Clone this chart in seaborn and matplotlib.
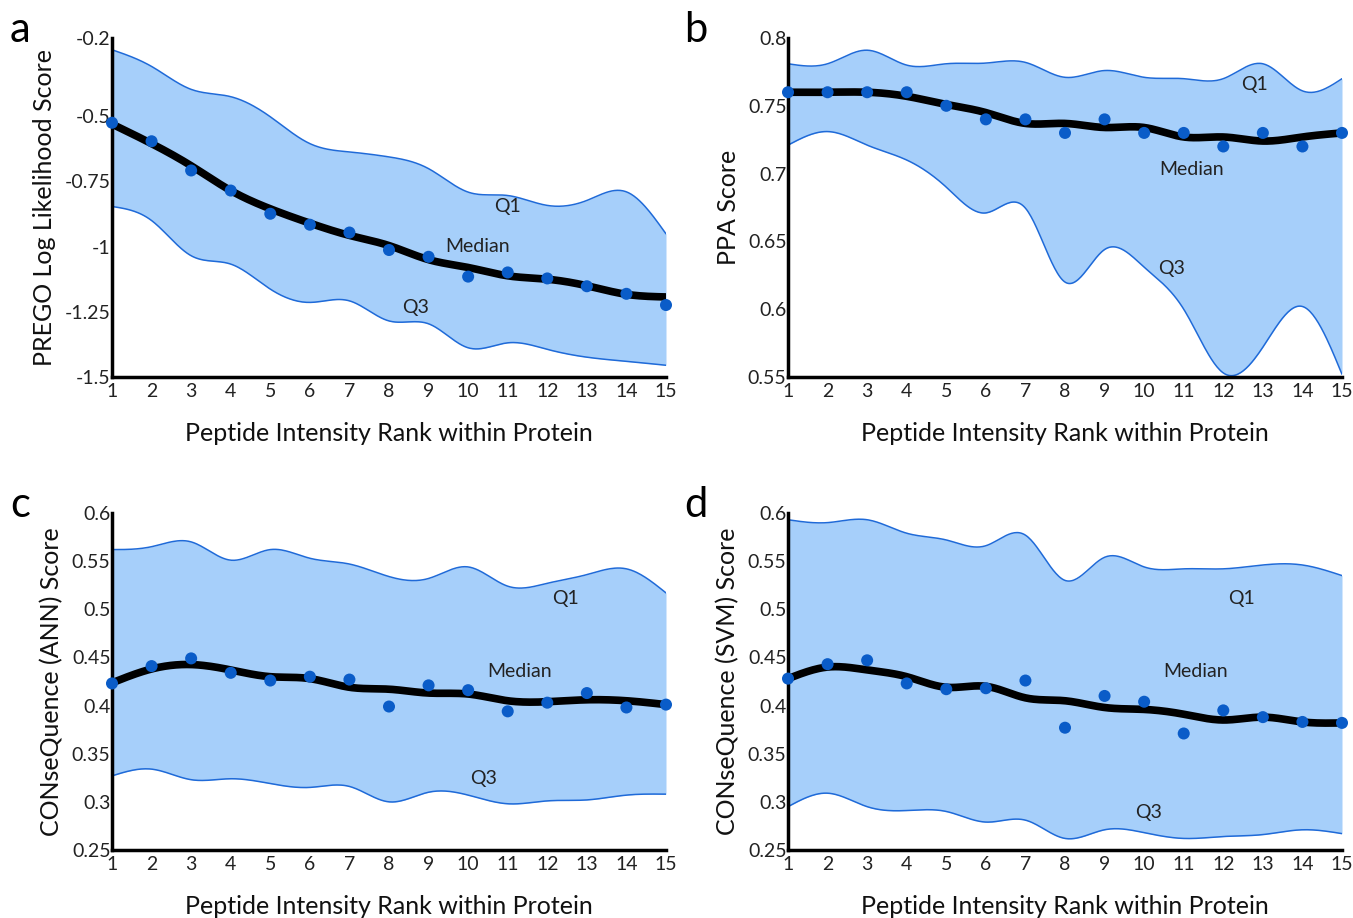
import numpy as np
import pandas as pd
import matplotlib
matplotlib.use("Agg")
import matplotlib.pyplot as plt
import seaborn as sns

sns.set_theme(style="white")
plt.rcParams['font.family'] = ['Lato', 'DejaVu Sans']

ranks = list(range(1, 16))

# Panel a: PREGO
a_points = [-0.525, -0.596, -0.708, -0.785, -0.874, -0.916, -0.946, -1.013, -1.039, -1.115, -1.099, -1.122, -1.152, -1.181, -1.224]
a_median = [-0.53, -0.605, -0.69, -0.785, -0.855, -0.91, -0.957, -0.996, -1.05, -1.08, -1.112, -1.125, -1.15, -1.183, -1.193]
a_q1 = [-0.245, -0.309, -0.397, -0.425, -0.502, -0.605, -0.637, -0.656, -0.701, -0.791, -0.804, -0.842, -0.823, -0.79, -0.951]
a_q3 = [-0.846, -0.9, -1.035, -1.067, -1.163, -1.214, -1.208, -1.285, -1.296, -1.388, -1.369, -1.394, -1.424, -1.44, -1.455]

# Panel b: PPA
b_points = [0.76, 0.76, 0.76, 0.76, 0.75, 0.74, 0.74, 0.73, 0.74, 0.73, 0.73, 0.72, 0.73, 0.72, 0.73]
b_median = [0.76, 0.76, 0.76, 0.757, 0.751, 0.745, 0.737, 0.737, 0.734, 0.734, 0.727, 0.727, 0.724, 0.727, 0.73]
b_q1 = [0.781, 0.781, 0.791, 0.780, 0.781, 0.7815, 0.782, 0.771, 0.776, 0.771, 0.770, 0.770, 0.781, 0.761, 0.770]
b_q3 = [0.721, 0.731, 0.721, 0.710, 0.690, 0.671, 0.6745, 0.620, 0.644, 0.631, 0.600, 0.553, 0.572, 0.602, 0.552]

# Panel c: CONSeQuence ANN
c_points = [0.423, 0.441, 0.449, 0.434, 0.426, 0.430, 0.427, 0.399, 0.421, 0.416, 0.394, 0.403, 0.413, 0.398, 0.401]
c_median = [0.4236, 0.438, 0.4426, 0.437, 0.430, 0.428, 0.419, 0.417, 0.413, 0.412, 0.405, 0.404, 0.406, 0.405, 0.401]
c_q1 = [0.562, 0.565, 0.570, 0.551, 0.562, 0.553, 0.547, 0.534, 0.532, 0.544, 0.524, 0.527, 0.536, 0.542, 0.517]
c_q3 = [0.327, 0.334, 0.323, 0.324, 0.319, 0.315, 0.316, 0.300, 0.310, 0.307, 0.298, 0.301, 0.302, 0.307, 0.308]

# Panel d: CONSeQuence SVM
d_points = [0.428, 0.443, 0.447, 0.423, 0.417, 0.418, 0.426, 0.377, 0.410, 0.404, 0.371, 0.395, 0.388, 0.383, 0.382]
d_median = [0.428, 0.440, 0.437, 0.430, 0.419, 0.420, 0.408, 0.405, 0.398, 0.396, 0.391, 0.385, 0.388, 0.383, 0.382]
d_q1 = [0.593, 0.590, 0.593, 0.579, 0.572, 0.566, 0.577, 0.530, 0.554, 0.544, 0.542, 0.542, 0.546, 0.546, 0.535]
d_q3 = [0.295, 0.309, 0.295, 0.291, 0.290, 0.279, 0.281, 0.262, 0.271, 0.268, 0.262, 0.264, 0.266, 0.271, 0.267]

panel_letters = ["a", "b", "c", "d"]
y_labels = ["PREGO Log Likelihood Score", "PPA Score",
            "CONseQuence (ANN) Score", "CONseQuence (SVM) Score"]
x_label = "Peptide Intensity Rank within Protein"
y_ticks = [[-0.2, -0.5, -0.75, -1, -1.25, -1.5],
           [0.8, 0.75, 0.7, 0.65, 0.6, 0.55],
           [0.6, 0.55, 0.5, 0.45, 0.4, 0.35, 0.3, 0.25],
           [0.6, 0.55, 0.5, 0.45, 0.4, 0.35, 0.3, 0.25]]
y_tick_labels = [["-0.2", "-0.5", "-0.75", "-1", "-1.25", "-1.5"],
                 ["0.8", "0.75", "0.7", "0.65", "0.6", "0.55"],
                 ["0.6", "0.55", "0.5", "0.45", "0.4", "0.35", "0.3", "0.25"],
                 ["0.6", "0.55", "0.5", "0.45", "0.4", "0.35", "0.3", "0.25"]]
y_limits = [(-1.5, -0.2), (0.55, 0.8), (0.25, 0.6), (0.25, 0.6)]
annot_labels = ["Q1", "Median", "Q3"]
annot_pos = [[(11.0, -0.848), (10.25, -1.0), (8.68, -1.235)],
             [(12.78, 0.766), (11.2, 0.703), (10.7, 0.630)],
             [(12.45, 0.511), (11.3, 0.435), (10.38, 0.324)],
             [(12.45, 0.511), (11.3, 0.435), (10.1, 0.289)]]

panels = [(a_points, a_median, a_q1, a_q3),
          (b_points, b_median, b_q1, b_q3),
          (c_points, c_median, c_q1, c_q3),
          (d_points, d_median, d_q1, d_q3)]


def smooth(x, y, xs):
    """Natural cubic spline through (x, y), evaluated at xs (for drawing)."""
    x = np.asarray(x, float)
    y = np.asarray(y, float)
    n = len(x)
    h = np.diff(x)
    A = np.zeros((n, n))
    r = np.zeros(n)
    A[0, 0] = A[-1, -1] = 1
    for i in range(1, n - 1):
        A[i, i - 1] = h[i - 1]
        A[i, i] = 2 * (h[i - 1] + h[i])
        A[i, i + 1] = h[i]
        r[i] = 6 * ((y[i + 1] - y[i]) / h[i] - (y[i] - y[i - 1]) / h[i - 1])
    M = np.linalg.solve(A, r)
    idx = np.clip(np.searchsorted(x, xs) - 1, 0, n - 2)
    x0, x1 = x[idx], x[idx + 1]
    hh = x1 - x0
    t0 = x1 - xs
    t1 = xs - x0
    return (M[idx] * t0 ** 3 / (6 * hh) + M[idx + 1] * t1 ** 3 / (6 * hh)
            + (y[idx] / hh - M[idx] * hh / 6) * t0
            + (y[idx + 1] / hh - M[idx + 1] * hh / 6) * t1)


fig = plt.figure(figsize=(13.53, 9.18), dpi=100)
W, H = 1353, 918
boxes = [(112, 38, 666, 377), (788, 38, 1342, 377),
         (112, 513, 666, 850), (788, 513, 1342, 850)]

fill_color = "#a6cffa"
edge_color = "#1f6ad8"
dot_color = "#0a5cc8"

xs = np.linspace(1, 15, 400)
for k, (pts, med, q1, q3) in enumerate(panels):
    l, t, r, b = boxes[k]
    ax = fig.add_axes([l / W, 1 - b / H, (r - l) / W, (b - t) / H])
    q1s = smooth(ranks, q1, xs)
    q3s = smooth(ranks, q3, xs)
    meds = smooth(ranks, med, xs)
    ax.fill_between(xs, q3s, q1s, color=fill_color, lw=0, zorder=1)
    sns.lineplot(x=xs, y=q1s, ax=ax, color=edge_color, lw=1.1, zorder=2)
    sns.lineplot(x=xs, y=q3s, ax=ax, color=edge_color, lw=1.1, zorder=2)
    sns.lineplot(x=xs, y=meds, ax=ax, color="black", lw=5.5, zorder=3)
    sns.scatterplot(x=ranks, y=pts, ax=ax, color=dot_color, s=75,
                    edgecolor="none", zorder=4, clip_on=False)
    ax.set_xlim(1, 15)
    ax.set_ylim(*y_limits[k])
    ax.set_xticks(ranks)
    ax.set_xticklabels([str(v) for v in ranks], fontsize=14)
    ax.set_yticks(y_ticks[k])
    ax.set_yticklabels(y_tick_labels[k], fontsize=14)
    ax.tick_params(axis="x", pad=4)
    ax.tick_params(axis="y", pad=1)
    ax.tick_params(axis="both", direction="in", length=4, width=1.5,
                   color="black", labelcolor="#222222")
    for s in ["top", "right"]:
        ax.spines[s].set_visible(False)
    for s in ["left", "bottom"]:
        ax.spines[s].set_color("black")
        ax.spines[s].set_linewidth(2.5)
    ax.set_facecolor("white")
    ax.set_xlabel(x_label, fontsize=18, labelpad=16, color="#111111")
    ax.set_ylabel(y_labels[k], fontsize=18, labelpad=6, color="#111111")
    for lab, (px, py) in zip(annot_labels, annot_pos[k]):
        ax.text(px, py, lab, fontsize=14, ha="center", va="center",
                color="#222222", zorder=5)
    fig.text((l - 92) / W, 1 - (t - 8) / H, panel_letters[k], fontsize=30,
             ha="center", va="center", color="black")

fig.savefig("out.png", dpi=100)
